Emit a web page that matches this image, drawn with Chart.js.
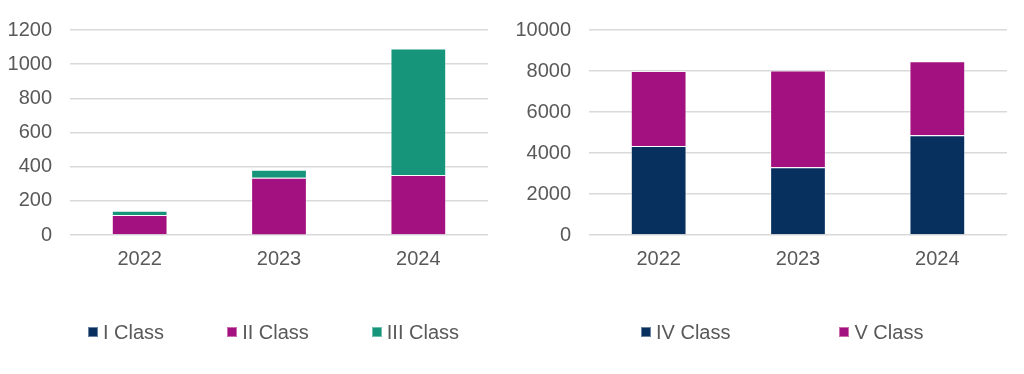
<!DOCTYPE html>
<html>
<head>
<meta charset="utf-8">
<script src="https://cdn.jsdelivr.net/npm/chart.js@4/dist/chart.umd.min.js"></script>
<style>
  body { margin: 0; background: #fff; overflow: hidden; font-family: 'Liberation Sans', Arial, sans-serif; }
  #wrap { position: relative; width: 1024px; height: 374px; }
  canvas { position: absolute; top: 0; }
  #leftChart { left: 0; }
  #rightChart { left: 500px; }
  .legend { position: absolute; top: 320px; display: flex; align-items: center; }
  #leftLegend { left: 88px; gap: 63px; }
  #rightLegend { left: 641px; gap: 109px; }
  .legend-item { display: flex; align-items: center; font-size: 20px; line-height: 24px; color: #595959; }
  .legend-box { width: 10px; height: 10px; margin-right: 5px; box-sizing: border-box; border: 1px solid rgba(255,255,255,0.4); }
</style>
</head>
<body>
<div id="wrap">
  <canvas id="leftChart" width="500" height="374"></canvas>
  <canvas id="rightChart" width="524" height="374"></canvas>
  <div class="legend" id="leftLegend"></div>
  <div class="legend" id="rightLegend"></div>
</div>
<script>
const years = ['2022', '2023', '2024'];

// left chart
const classI = [0, 3, 0];
const classII = [117, 332, 351];
const classIII = [25, 47, 740];
const leftTicks = [0, 200, 400, 600, 800, 1000, 1200];

// right chart
const classIV = [4340, 3300, 4860];
const classV = [3660, 4730, 3610];
const rightTicks = [0, 2000, 4000, 6000, 8000, 10000];

const navy = '#07305F';
const purple = '#A3107F';
const teal = '#17957B';
const textColor = '#595959';
const gridColor = '#d9d9d9';

Chart.defaults.font.family = "'Liberation Sans', Arial, sans-serif";
Chart.defaults.font.size = 20;
Chart.defaults.color = textColor;

// builds the legend as html from the chart's own legend items
const htmlLegend = {
  id: 'htmlLegend',
  afterUpdate(chart, args, options) {
    const box = document.getElementById(options.containerID);
    box.innerHTML = '';
    const items = chart.options.plugins.legend.labels.generateLabels(chart);
    items.forEach(item => {
      const div = document.createElement('div');
      div.className = 'legend-item';
      const sw = document.createElement('span');
      sw.className = 'legend-box';
      sw.style.background = item.fillStyle;
      const txt = document.createElement('span');
      txt.textContent = item.text;
      div.appendChild(sw);
      div.appendChild(txt);
      box.appendChild(div);
    });
  }
};

function makeDataset(label, data, color) {
  return {
    label: label,
    data: data,
    backgroundColor: color,
    borderColor: 'rgba(255,255,255,0.5)',
    borderWidth: 1,
    categoryPercentage: 1,
    barPercentage: 0.4
  };
}

function makeOptions(ticks, yWidth, padRight, legendID) {
  return {
    responsive: false,
    animation: false,
    layout: { padding: { top: 30, right: padRight, bottom: 99, left: 0 } },
    plugins: {
      legend: { display: false },
      tooltip: { enabled: false },
      htmlLegend: { containerID: legendID }
    },
    scales: {
      x: {
        stacked: true,
        grid: { display: false },
        border: { display: false },
        ticks: { padding: 4, color: textColor },
        afterFit: s => { s.height = 40; }
      },
      y: {
        stacked: true,
        min: ticks[0],
        max: ticks[ticks.length - 1],
        grid: { color: gridColor, lineWidth: 1.5, drawTicks: false },
        border: { display: false },
        ticks: { padding: 18, color: textColor, format: { useGrouping: false } },
        afterBuildTicks: s => { s.ticks = ticks.map(v => ({ value: v })); },
        afterFit: s => { s.width = yWidth; }
      }
    }
  };
}

new Chart(document.getElementById('leftChart'), {
  type: 'bar',
  data: {
    labels: years,
    datasets: [
      makeDataset('I Class', classI, navy),
      makeDataset('II Class', classII, purple),
      makeDataset('III Class', classIII, teal)
    ]
  },
  options: makeOptions(leftTicks, 70, 12, 'leftLegend'),
  plugins: [htmlLegend]
});

new Chart(document.getElementById('rightChart'), {
  type: 'bar',
  data: {
    labels: years,
    datasets: [
      makeDataset('IV Class', classIV, navy),
      makeDataset('V Class', classV, purple)
    ]
  },
  options: makeOptions(rightTicks, 89, 17, 'rightLegend'),
  plugins: [htmlLegend]
});
</script>
</body>
</html>
